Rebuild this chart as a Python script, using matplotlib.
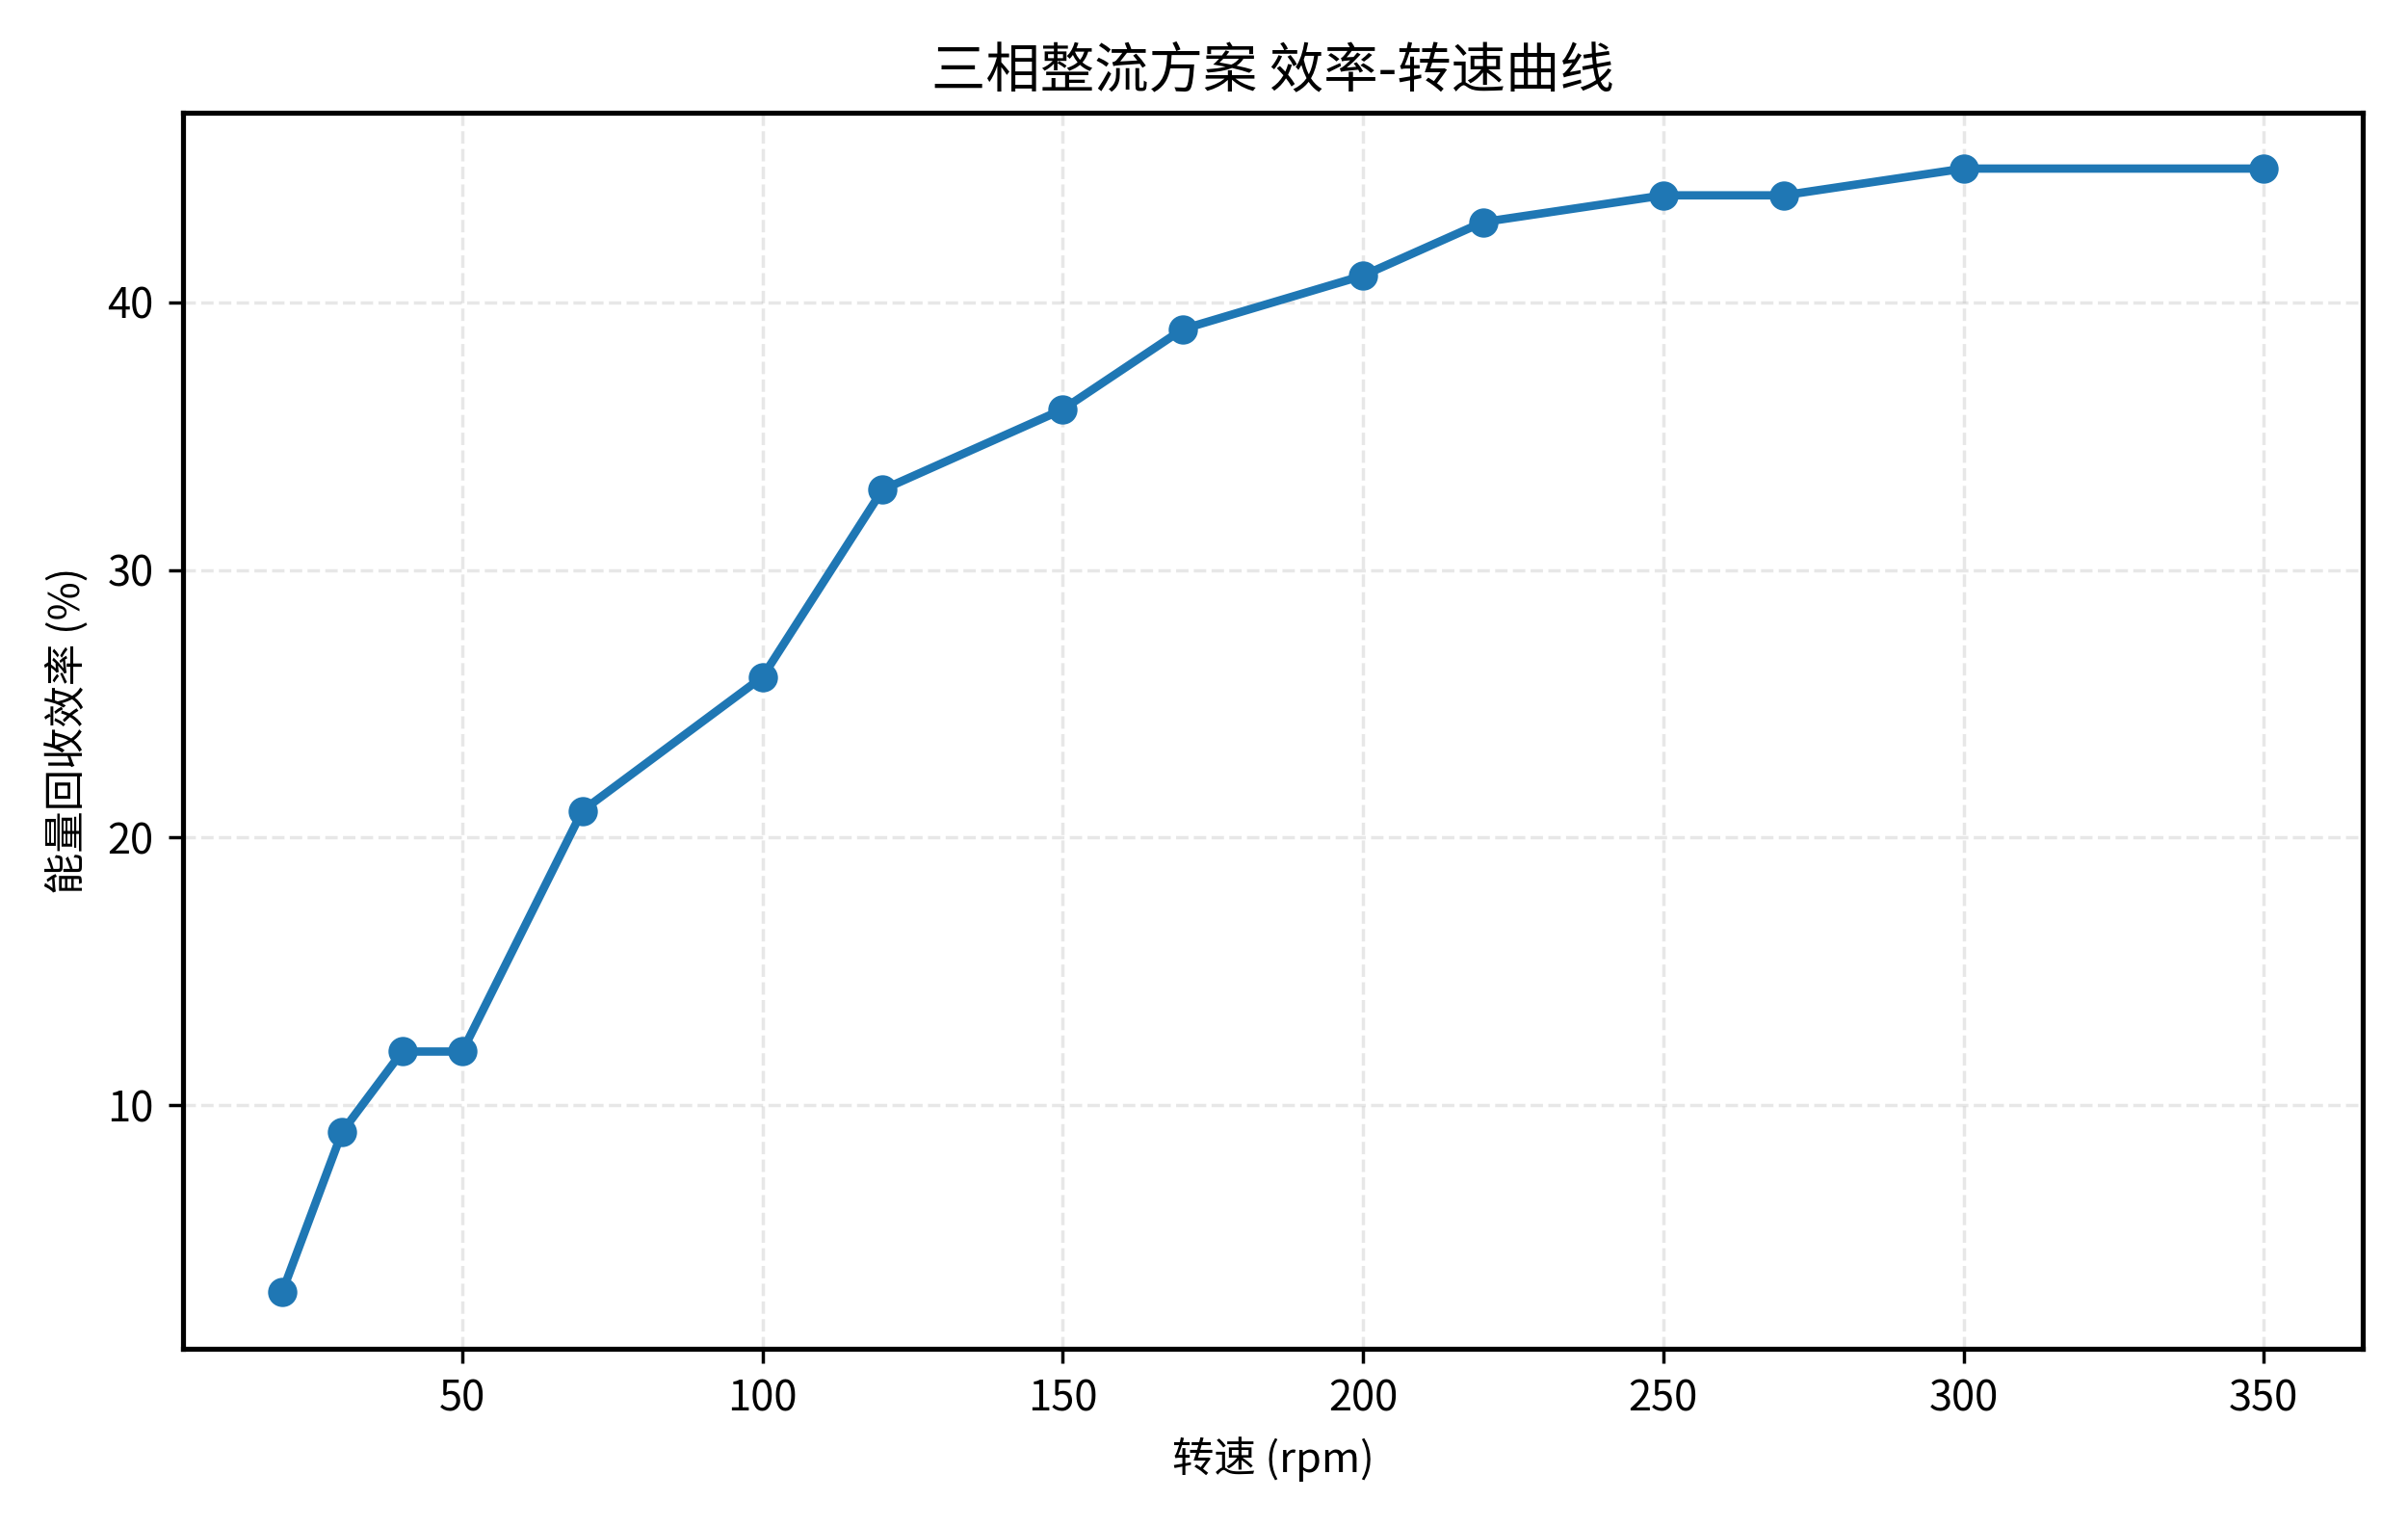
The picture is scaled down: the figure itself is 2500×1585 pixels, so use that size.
import matplotlib
matplotlib.use("Agg")
import matplotlib.pyplot as plt

plt.rcParams['font.family'] = ['Noto Sans CJK SC', 'DejaVu Sans']
plt.rcParams['axes.unicode_minus'] = False

speed = [20, 30, 40, 50, 70, 100, 120, 150, 170, 200, 220, 250, 270, 300, 350]
efficiency = [3, 9, 12, 12, 21, 26, 33, 36, 39, 41, 43, 44, 44, 45, 45]

fig, ax = plt.subplots(figsize=(8, 5.072))
ax.plot(speed, efficiency, marker='o', linewidth=2, markersize=6, color='#1f77b4')
ax.set_title("三相整流方案 效率-转速曲线", fontsize=13)
ax.set_xlabel("转速 (rpm)")
ax.set_ylabel("能量回收效率 (%)")
ax.grid(True, linestyle='--', alpha=0.3)
ax.set_xticks([50, 100, 150, 200, 250, 300, 350])
ax.set_yticks([10, 20, 30, 40])
for s in ax.spines.values():
    s.set_linewidth(1.2)

fig.tight_layout()
fig.savefig("out.png", dpi=312.5)
